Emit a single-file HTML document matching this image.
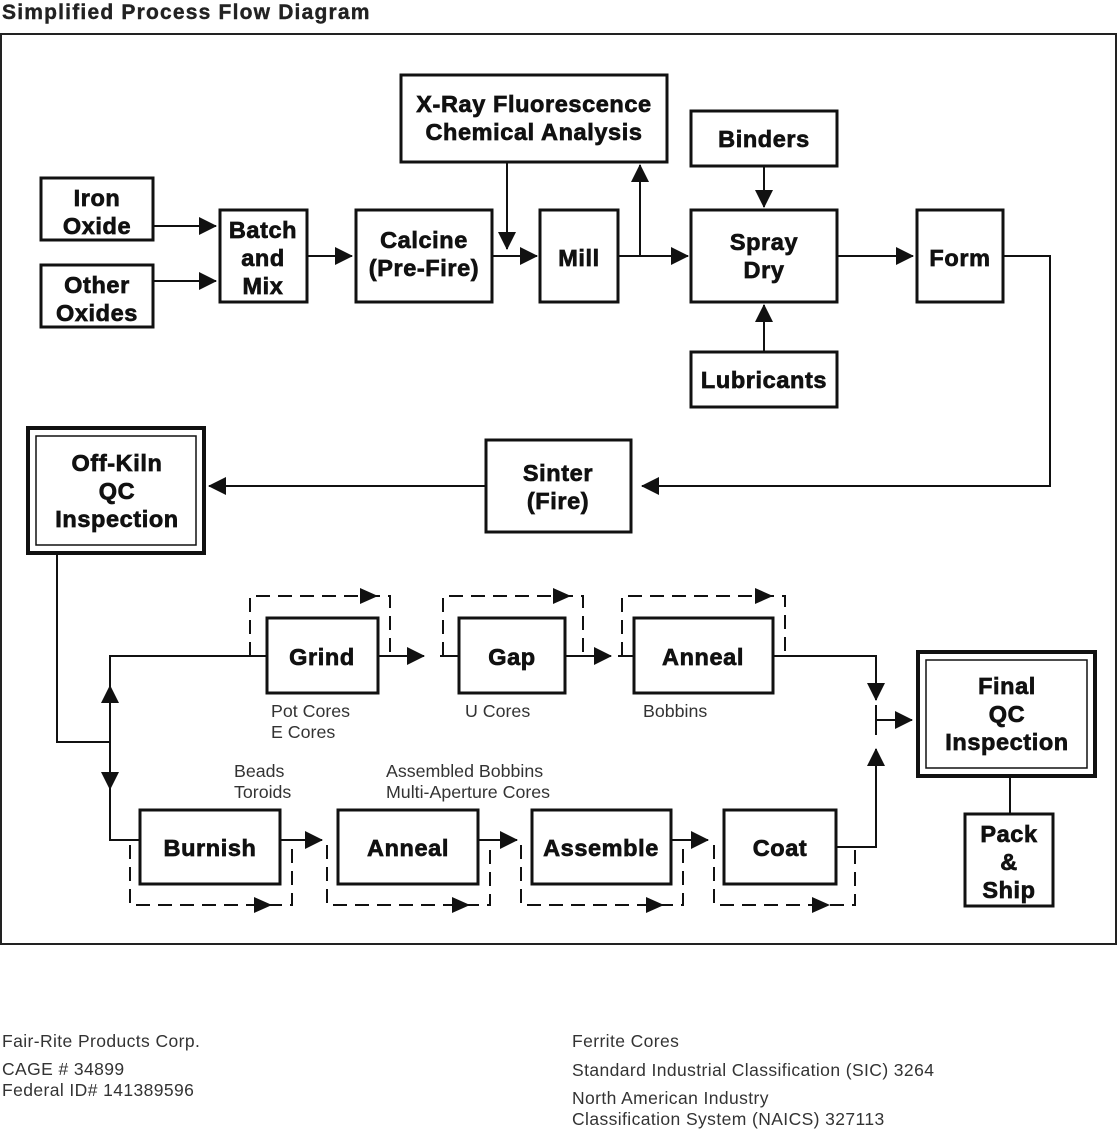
<!DOCTYPE html>
<html><head><meta charset="utf-8"><style>
html,body{margin:0;padding:0;background:#fff}
svg{display:block}
.b{font-family:"Liberation Sans",sans-serif;font-weight:bold;font-size:23.5px;letter-spacing:0.6px;fill:#111;stroke:#111;stroke-width:0.7;text-anchor:middle}
.s{font-family:"Liberation Sans",sans-serif;font-size:17.8px;fill:#333}
.f{font-family:"Liberation Sans",sans-serif;font-size:17.5px;letter-spacing:0.4px;fill:#333}
</style></head><body>
<svg width="1118" height="1131" viewBox="0 0 1118 1131">
<defs>
<marker id="A" markerWidth="18" markerHeight="18" refX="17" refY="9" orient="auto" markerUnits="userSpaceOnUse" viewBox="0 0 18 18"><path d="M0,0L18,9L0,18z" fill="#111"/></marker>
</defs>
<text x="2" y="19" style="font-family:'Liberation Sans',sans-serif;font-weight:bold;font-size:21px;letter-spacing:1.2px;fill:#222;stroke:#222;stroke-width:0.4">Simplified Process Flow Diagram</text>
<rect x="1" y="34" width="1115" height="910" fill="none" stroke="#222" stroke-width="2"/>
<g fill="#fff" stroke="#111" stroke-width="3">
<rect x="41" y="178" width="112" height="62"/>
<rect x="41" y="265" width="112" height="62"/>
<rect x="220" y="210" width="87" height="92"/>
<rect x="356" y="210" width="136" height="92"/>
<rect x="540" y="210" width="78" height="92"/>
<rect x="401" y="75" width="266" height="87"/>
<rect x="691" y="111" width="146" height="55"/>
<rect x="691" y="210" width="146" height="92"/>
<rect x="691" y="352" width="146" height="55"/>
<rect x="917" y="210" width="86" height="92"/>
<rect x="486" y="440" width="145" height="92"/>
<rect x="28" y="428" width="176" height="125" stroke-width="4"/>
<rect x="36" y="436" width="160" height="109" stroke-width="1.5"/>
<rect x="267" y="618" width="111" height="75"/>
<rect x="459" y="618" width="106" height="75"/>
<rect x="634" y="618" width="139" height="75"/>
<rect x="918" y="652" width="177" height="124" stroke-width="4"/>
<rect x="926" y="660" width="161" height="108" stroke-width="1.5"/>
<rect x="965" y="814" width="88" height="92"/>
<rect x="140" y="810" width="140" height="74"/>
<rect x="338" y="810" width="140" height="74"/>
<rect x="532" y="810" width="139" height="74"/>
<rect x="724" y="810" width="112" height="74"/>
</g>
<g fill="none" stroke="#111" stroke-width="2">
<line x1="153" y1="226" x2="216" y2="226" marker-end="url(#A)"/>
<line x1="153" y1="281" x2="216" y2="281" marker-end="url(#A)"/>
<line x1="307" y1="256" x2="352" y2="256" marker-end="url(#A)"/>
<line x1="492" y1="256" x2="537" y2="256" marker-end="url(#A)"/>
<line x1="507" y1="162" x2="507" y2="249" marker-end="url(#A)"/>
<line x1="618" y1="256" x2="688" y2="256" marker-end="url(#A)"/>
<line x1="640" y1="256" x2="640" y2="165" marker-end="url(#A)"/>
<line x1="764" y1="166" x2="764" y2="207" marker-end="url(#A)"/>
<line x1="764" y1="352" x2="764" y2="305" marker-end="url(#A)"/>
<line x1="837" y1="256" x2="913" y2="256" marker-end="url(#A)"/>
<polyline points="1003,256 1050,256 1050,486 642,486" marker-end="url(#A)"/>
<line x1="486" y1="486" x2="209" y2="486" marker-end="url(#A)"/>
<polyline points="57,554 57,742 110,742"/>
<polyline points="267,656 110,656 110,840 140,840"/>
<line x1="110" y1="742" x2="110" y2="686" marker-end="url(#A)"/>
<line x1="110" y1="742" x2="110" y2="789" marker-end="url(#A)"/>
<line x1="378" y1="656" x2="424" y2="656" marker-end="url(#A)"/>
<line x1="440" y1="656" x2="459" y2="656"/>
<line x1="565" y1="656" x2="611" y2="656" marker-end="url(#A)"/>
<line x1="618" y1="656" x2="634" y2="656"/>
<polyline points="773,656 876,656 876,700" marker-end="url(#A)"/>
<line x1="876" y1="705" x2="876" y2="735"/>
<line x1="876" y1="720" x2="912" y2="720" marker-end="url(#A)"/>
<polyline points="836,847 876,847 876,749" marker-end="url(#A)"/>
<line x1="280" y1="840" x2="322" y2="840" marker-end="url(#A)"/>
<line x1="478" y1="840" x2="517" y2="840" marker-end="url(#A)"/>
<line x1="671" y1="840" x2="708" y2="840" marker-end="url(#A)"/>
<line x1="1010" y1="777" x2="1010" y2="814"/>
</g>
<g fill="none" stroke="#111" stroke-width="2" stroke-dasharray="14,8">
<polyline points="250,656 250,596 390,596 390,656" />
<polyline points="443,656 443,596 583,596 583,656" />
<polyline points="622,656 622,596 785,596 785,656" />
<polyline points="130,845 130,905 292,905 292,845" />
<polyline points="327,845 327,905 490,905 490,845" />
<polyline points="521,845 521,905 683,905 683,845" />
<polyline points="714,845 714,905 855,905 855,845" />
</g>
<g fill="#111">
<path d="M360,588L378,596L360,604z"/>
<path d="M553,588L571,596L553,604z"/>
<path d="M755,588L773,596L755,604z"/>
<path d="M254,897L272,905L254,913z"/>
<path d="M452,897L470,905L452,913z"/>
<path d="M646,897L664,905L646,913z"/>
<path d="M812,897L830,905L812,913z"/>
</g>
<g class="b">
<text x="97" y="206">Iron</text><text x="97" y="234">Oxide</text>
<text x="97" y="293">Other</text><text x="97" y="321">Oxides</text>
<text x="263" y="238">Batch</text><text x="263" y="266">and</text><text x="263" y="294">Mix</text>
<text x="424" y="248">Calcine</text><text x="424" y="276">(Pre-Fire)</text>
<text x="579" y="266">Mill</text>
<text x="534" y="112">X-Ray Fluorescence</text><text x="534" y="140">Chemical Analysis</text>
<text x="764" y="147">Binders</text>
<text x="764" y="250">Spray</text><text x="764" y="278">Dry</text>
<text x="764" y="388">Lubricants</text>
<text x="960" y="266">Form</text>
<text x="558" y="481">Sinter</text><text x="558" y="509">(Fire)</text>
<text x="117" y="471">Off-Kiln</text><text x="117" y="499">QC</text><text x="117" y="527">Inspection</text>
<text x="322" y="665">Grind</text>
<text x="512" y="665">Gap</text>
<text x="703" y="665">Anneal</text>
<text x="1007" y="694">Final</text><text x="1007" y="722">QC</text><text x="1007" y="750">Inspection</text>
<text x="1009" y="842">Pack</text><text x="1009" y="870">&amp;</text><text x="1009" y="898">Ship</text>
<text x="210" y="856">Burnish</text>
<text x="408" y="856">Anneal</text>
<text x="601" y="856">Assemble</text>
<text x="780" y="856">Coat</text>
</g>
<g class="s">
<text x="271" y="717">Pot Cores</text><text x="271" y="738">E Cores</text>
<text x="465" y="717">U Cores</text>
<text x="643" y="717">Bobbins</text>
<text x="234" y="777">Beads</text><text x="234" y="798">Toroids</text>
<text x="386" y="777">Assembled Bobbins</text><text x="386" y="798">Multi-Aperture Cores</text>
</g>
<g class="f">
<text x="2" y="1047">Fair-Rite Products Corp.</text>
<text x="2" y="1075">CAGE # 34899</text>
<text x="2" y="1096">Federal ID# 141389596</text>
<text x="572" y="1047">Ferrite Cores</text>
<text x="572" y="1076">Standard Industrial Classification (SIC) 3264</text>
<text x="572" y="1104">North American Industry</text>
<text x="572" y="1125">Classification System (NAICS) 327113</text>
</g>
</svg>
</body></html>
